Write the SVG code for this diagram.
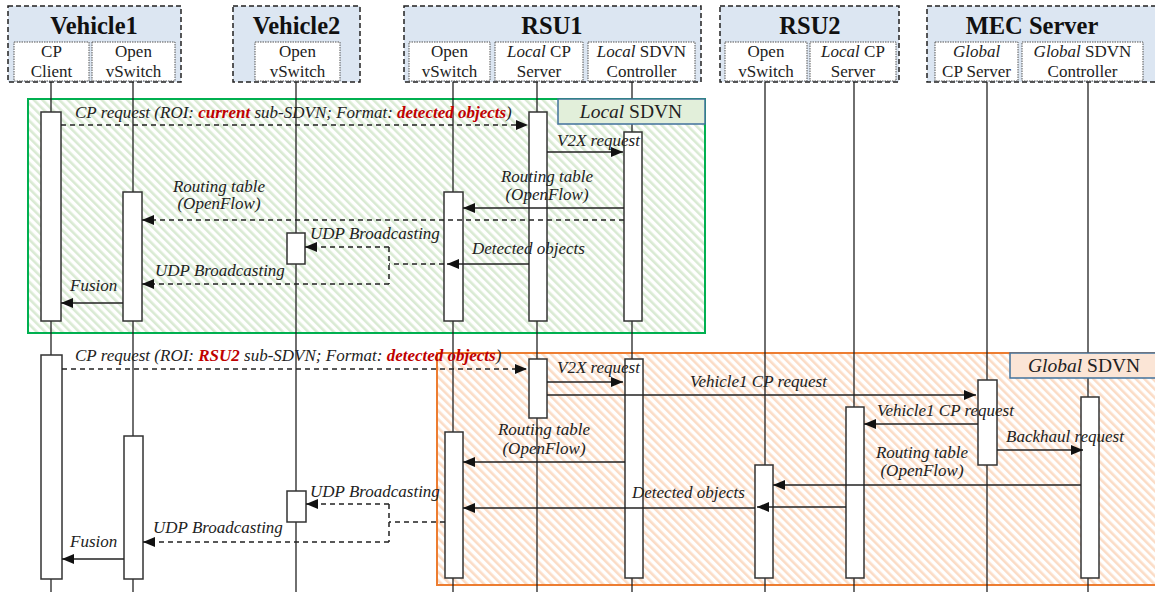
<svg xmlns="http://www.w3.org/2000/svg" width="1155" height="592" viewBox="0 0 1155 592">
<style>
.hdr{fill:#dce6f2;stroke:#222;stroke-width:1.5;stroke-dasharray:5 3}
.sub{fill:#fff;stroke:#555;stroke-width:1;stroke-dasharray:1.5 1}
.title{font-family:"Liberation Serif","Times New Roman",serif;font-weight:bold;font-size:24.5px;text-anchor:middle;fill:#111}
.lbl{font-family:"Liberation Serif","Times New Roman",serif;font-size:17px;text-anchor:middle;fill:#222}
.life{stroke:#222;stroke-width:1.3}
.act{fill:#fff;stroke:#333;stroke-width:1.5}
.msg{stroke:#222;stroke-width:1.5;fill:none;marker-end:url(#ah)}
.ln{stroke:#222;stroke-width:1.5;fill:none}
.dash{stroke-dasharray:5 4}
.mt{font-family:"Liberation Serif","Times New Roman",serif;font-style:italic;font-size:17px;fill:#222}
.mc{text-anchor:middle}
.red{font-weight:bold;fill:#c00000}
.tag{font-family:"Liberation Serif","Times New Roman",serif;font-size:19.5px;fill:#222}
</style>
<defs>
<marker id="ah" markerUnits="userSpaceOnUse" markerWidth="13" markerHeight="11" refX="12" refY="5" orient="auto">
<path d="M0,0 L12,5 L0,10 z" fill="#111"/>
</marker>
<pattern id="hg" patternUnits="userSpaceOnUse" width="6" height="6" patternTransform="rotate(-45)">
<rect x="0" y="0" width="2.6" height="6" fill="#d9ead3"/>
</pattern>
<pattern id="ho" patternUnits="userSpaceOnUse" width="6" height="6" patternTransform="rotate(-45)">
<rect x="0" y="0" width="2.6" height="6" fill="#fbdcc6"/>
</pattern>
</defs>
<rect width="1155" height="592" fill="#fff"/>

<g id="local-sdvn-region">
<rect x="28" y="99" width="677" height="234" fill="url(#hg)" stroke="#00b050" stroke-width="2"/>
</g>
<g id="global-sdvn-region">
<rect x="437" y="353" width="730" height="232" fill="url(#ho)" stroke="#ed7d31" stroke-width="2"/>
</g>

<g id="lifelines">
<line class="life" x1="51" y1="81" x2="51" y2="592"/>
<line class="life" x1="133" y1="81" x2="133" y2="592"/>
<line class="life" x1="296" y1="81" x2="296" y2="592"/>
<line class="life" x1="453" y1="81" x2="453" y2="592"/>
<line class="life" x1="537" y1="81" x2="537" y2="592"/>
<line class="life" x1="632" y1="81" x2="632" y2="592"/>
<line class="life" x1="765" y1="81" x2="765" y2="592"/>
<line class="life" x1="854" y1="81" x2="854" y2="592"/>
<line class="life" x1="987" y1="81" x2="987" y2="592"/>
<line class="life" x1="1088" y1="81" x2="1088" y2="592"/>
</g>

<g id="local-sdvn-tag">
<rect x="558" y="99" width="147" height="25" fill="#e2efda" stroke="#41719c" stroke-width="1.5"/>
<text class="tag" x="631" y="118" text-anchor="middle"><tspan font-style="italic">Local</tspan> SDVN</text>
</g>
<g id="global-sdvn-tag">
<rect x="1010" y="353" width="150" height="25" fill="#fbe5d6" stroke="#41719c" stroke-width="1.5"/>
<text class="tag" x="1028" y="372"><tspan font-style="italic">Global</tspan> SDVN</text>
</g>

<g id="vehicle1">
<rect class="hdr" x="8" y="6" width="173" height="76"/>
<text class="title" x="94" y="34">Vehicle1</text>
<rect class="sub" x="14" y="42" width="75" height="39"/>
<text class="lbl" x="51.5" y="57">CP</text><text class="lbl" x="51.5" y="77">Client</text>
<rect class="sub" x="92" y="42" width="83" height="39"/>
<text class="lbl" x="133.5" y="57">Open</text><text class="lbl" x="133.5" y="77">vSwitch</text>
</g>
<g id="vehicle2">
<rect class="hdr" x="233" y="6" width="127" height="76"/>
<text class="title" x="296.5" y="34">Vehicle2</text>
<rect class="sub" x="255" y="42" width="85" height="39"/>
<text class="lbl" x="297.5" y="57">Open</text><text class="lbl" x="297.5" y="77">vSwitch</text>
</g>
<g id="rsu1">
<rect class="hdr" x="404" y="6" width="297" height="76"/>
<text class="title" x="552" y="34">RSU1</text>
<rect class="sub" x="409" y="42" width="81" height="39"/>
<text class="lbl" x="449.5" y="57">Open</text><text class="lbl" x="449.5" y="77">vSwitch</text>
<rect class="sub" x="495" y="42" width="88" height="39"/>
<text class="lbl" x="539" y="57"><tspan font-style="italic">Local</tspan> CP</text><text class="lbl" x="539" y="77">Server</text>
<rect class="sub" x="588" y="42" width="107" height="39"/>
<text class="lbl" x="641.5" y="57"><tspan font-style="italic">Local</tspan> SDVN</text><text class="lbl" x="641.5" y="77">Controller</text>
</g>
<g id="rsu2">
<rect class="hdr" x="720" y="6" width="179" height="76"/>
<text class="title" x="810" y="34">RSU2</text>
<rect class="sub" x="725" y="42" width="82" height="39"/>
<text class="lbl" x="766" y="57">Open</text><text class="lbl" x="766" y="77">vSwitch</text>
<rect class="sub" x="810" y="42" width="86" height="39"/>
<text class="lbl" x="853" y="57"><tspan font-style="italic">Local</tspan> CP</text><text class="lbl" x="853" y="77">Server</text>
</g>
<g id="mec-server">
<rect class="hdr" x="927" y="6" width="240" height="76"/>
<text class="title" x="1032" y="34">MEC Server</text>
<rect class="sub" x="935" y="42" width="83" height="39"/>
<text class="lbl" x="976.5" y="57"><tspan font-style="italic">Global</tspan></text><text class="lbl" x="976.5" y="77">CP Server</text>
<rect class="sub" x="1022" y="42" width="121" height="39"/>
<text class="lbl" x="1082.5" y="57"><tspan font-style="italic">Global</tspan> SDVN</text><text class="lbl" x="1082.5" y="77">Controller</text>
</g>

<g id="activations">
<rect class="act" x="41" y="112" width="20" height="209"/>
<rect class="act" x="123" y="192" width="19" height="129"/>
<rect class="act" x="287" y="233" width="18" height="31"/>
<rect class="act" x="444" y="192" width="19" height="129"/>
<rect class="act" x="529" y="112" width="18" height="209"/>
<rect class="act" x="624" y="132" width="18" height="189"/>
<rect class="act" x="41" y="355" width="21" height="224"/>
<rect class="act" x="124" y="436" width="19" height="143"/>
<rect class="act" x="287" y="491" width="19" height="31"/>
<rect class="act" x="445" y="432" width="18" height="146"/>
<rect class="act" x="529" y="359" width="18" height="59"/>
<rect class="act" x="625" y="359" width="18" height="219"/>
<rect class="act" x="755" y="465" width="18" height="113"/>
<rect class="act" x="846" y="407" width="18" height="171"/>
<rect class="act" x="978" y="380" width="19" height="85"/>
<rect class="act" x="1081" y="397" width="18" height="181"/>
</g>

<g id="connectors">
<line class="msg dash" x1="61" y1="125" x2="528" y2="125"/>
<line class="msg" x1="547" y1="152" x2="623" y2="152"/>
<line class="msg" x1="624" y1="208" x2="463" y2="208"/>
<line class="msg dash" x1="624" y1="220" x2="142" y2="220"/>
<line class="msg" x1="529" y1="264" x2="447" y2="264"/>
<line class="ln dash" x1="444" y1="264" x2="389" y2="264"/>
<line class="ln dash" x1="389" y1="247" x2="389" y2="284"/>
<line class="msg dash" x1="389" y1="247" x2="305" y2="247"/>
<line class="msg dash" x1="389" y1="284" x2="142" y2="284"/>
<line class="msg" x1="123" y1="303" x2="61" y2="303"/>

<line class="msg dash" x1="62" y1="369" x2="527" y2="369"/>
<line class="msg" x1="547" y1="382" x2="623" y2="382"/>
<line class="msg" x1="547" y1="395" x2="976" y2="395"/>
<line class="msg" x1="978" y1="424" x2="864" y2="424"/>
<line class="msg" x1="997" y1="450" x2="1083" y2="450"/>
<line class="msg" x1="625" y1="462" x2="463" y2="462"/>
<line class="msg" x1="1081" y1="485" x2="773" y2="485"/>
<line class="msg" x1="846" y1="507" x2="757" y2="507"/>
<line class="msg" x1="755" y1="508" x2="463" y2="508"/>
<line class="ln dash" x1="445" y1="522" x2="389" y2="522"/>
<line class="ln dash" x1="389" y1="504" x2="389" y2="542"/>
<line class="msg dash" x1="389" y1="504" x2="306" y2="504"/>
<line class="msg dash" x1="389" y1="542" x2="143" y2="542"/>
<line class="msg" x1="124" y1="559" x2="62" y2="559"/>
</g>

<g id="message-labels">
<text class="mt" x="75" y="118">CP request (ROI: <tspan class="red">current</tspan> sub-SDVN; Format: <tspan class="red">detected objects</tspan>)</text>
<text class="mt" x="557" y="146">V2X request</text>
<text class="mt mc" x="547" y="182">Routing table</text>
<text class="mt mc" x="547" y="200">(OpenFlow)</text>
<text class="mt mc" x="219" y="192">Routing table</text>
<text class="mt mc" x="219" y="209">(OpenFlow)</text>
<text class="mt" x="310" y="239">UDP Broadcasting</text>
<text class="mt" x="472" y="254">Detected objects</text>
<text class="mt" x="155" y="276">UDP Broadcasting</text>
<text class="mt" x="70" y="291">Fusion</text>

<text class="mt" x="75" y="361">CP request (ROI: <tspan class="red">RSU2</tspan> sub-SDVN; Format: <tspan class="red">detected objects</tspan>)</text>
<text class="mt" x="557" y="373">V2X request</text>
<text class="mt" x="690" y="387">Vehicle1 CP request</text>
<text class="mt" x="877" y="416">Vehicle1 CP request</text>
<text class="mt" x="1006" y="442">Backhaul request</text>
<text class="mt mc" x="922" y="458">Routing table</text>
<text class="mt mc" x="922" y="476">(OpenFlow)</text>
<text class="mt mc" x="544" y="435">Routing table</text>
<text class="mt mc" x="544" y="454">(OpenFlow)</text>
<text class="mt" x="632" y="498">Detected objects</text>
<text class="mt" x="310" y="497">UDP Broadcasting</text>
<text class="mt" x="153" y="533">UDP Broadcasting</text>
<text class="mt" x="70" y="547">Fusion</text>
</g>
</svg>
